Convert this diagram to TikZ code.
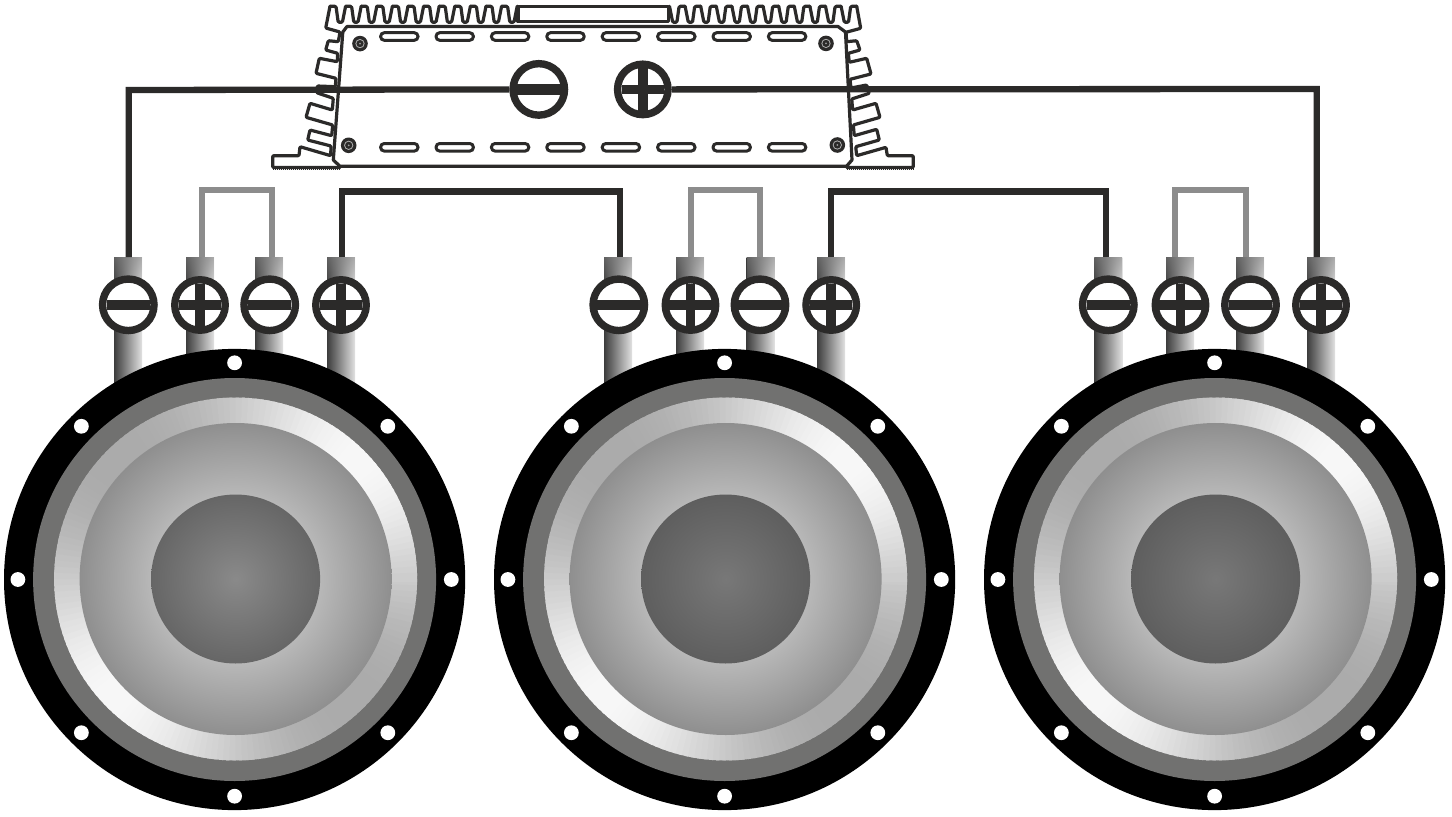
\documentclass[tikz,border=0pt]{standalone}
\usetikzlibrary{fadings}
\definecolor{dark}{HTML}{2B2A29}
\definecolor{jump}{HTML}{8C8C8C}
\definecolor{frame}{HTML}{717170}
\definecolor{postL}{HTML}{3C3C3C}
\definecolor{postR}{HTML}{E2E2E2}
\definecolor{postT}{HTML}{808080}
\pgfdeclareradialshading{coneS}{\pgfpoint{0bp}{0bp}}{color(0bp)=(black!28); color(13.5bp)=(black!28); color(25bp)=(black!44); color(50bp)=(black!44)}
\pgfdeclareradialshading{capA}{\pgfpoint{0bp}{0bp}}{color(0bp)=(black!46); color(25bp)=(black!60); color(50bp)=(black!60)}
\pgfdeclareradialshading{capB}{\pgfpoint{0bp}{0bp}}{color(0bp)=(black!53); color(25bp)=(black!63); color(50bp)=(black!63)}
\tikzfading[name=fadedown, top color=transparent!45, bottom color=transparent!100]
\tikzset{
  wire/.style={draw=dark,line width=6.3pt},
  jumper/.style={draw=jump,line width=6pt},
  ampline/.style={draw=dark,line width=3.2pt,line join=round,line cap=round},
  screw/.style={circle,draw=dark,fill=white,line width=7.4pt,minimum size=51.5pt,inner sep=0pt},
  slot/.style={draw=dark,fill=white,line width=3pt,rounded corners=3.7pt},
}
\newcommand{\screwminus}[3]{\node[screw] (#1) at (#2,#3) {};
  \fill[dark] (#2-21.7,#3-5.2) rectangle (#2+21.7,#3+5.2);}
\newcommand{\screwplus}[3]{\node[screw,minimum size=50.5pt] (#1) at (#2,#3) {};
  \fill[dark] (#2-21.2,#3-4.9) rectangle (#2+21.2,#3+4.9);
  \fill[dark] (#2-4.9,#3-21.5) rectangle (#2+4.9,#3+21.5);}
\newcommand{\postbar}[1]{\shade[left color=postL,right color=postR] (#1-14,257) rectangle (#1+14,400);
  \fill[postT,path fading=fadedown] (#1-14,257) rectangle (#1+14,292);}
\newcommand{\speaker}[2]{%
  \fill[black] (#1,579.5) circle (230.6);
  \foreach \h in {0,45,...,315} {\fill[white] (#1,579.5) ++(\h:216.7) circle (7.4);}
  \fill[frame] (#1,579.5) circle (201.5);
  \foreach \a in {0,2,...,358} {
    \pgfmathsetmacro{\g}{0.67+0.30*pow(abs(cos(\a+45))+0.0001,2.6)}
    \definecolor{ringc}{gray}{\g}
    \fill[ringc] (#1+1,579) -- ++(\a:181.5) arc[start angle=\a,end angle=\a+3,radius=181.5] -- cycle;
  }
  \shade[shading=coneS] (#1+1,579) circle (156);
  \shade[shading=#2] (#1+1,579) circle (84.5);
}
\newcommand{\ampscrew}[3]{\fill[dark] (#2,#3) circle (7.8);
  \fill[white!70!black] (#2,#3) circle (4.6);
  \fill[dark] (#2,#3) circle (3.6);
  \node[circle,fill=white!60!black,inner sep=0pt,minimum size=2pt] (#1) at (#2,#3) {};}
\begin{document}
\begin{tikzpicture}[x=1pt,y=-1pt]
\useasboundingbox (0,0) rectangle (1452,817);
\fill[white] (0,0) rectangle (1452,817);
% amplifier
\draw[ampline,fill=white] (347,26.5) -- (838,26.5) -- (845.5,32) -- (852,160) -- (846.5,166.3) -- (340,166.3) -- (333.3,160) -- (342.8,32) -- cycle;
\draw[ampline] (518,6.3) rectangle (668.5,21.5);
\foreach \i in {0,...,11} {
  \pgfmathsetmacro{\xx}{330+15.6*\i}
  \draw[ampline,rounded corners=1.2pt] (\xx,6.3) -- (\xx+6,6.3) -- (\xx+8.2,22.3) -- (\xx+12.4,22.3) -- (\xx+15.6,6.3);
  \pgfmathsetmacro{\xr}{856.7-15.6*\i}
  \draw[ampline,rounded corners=1.2pt] (\xr,6.3) -- (\xr-6,6.3) -- (\xr-8.2,22.3) -- (\xr-12.4,22.3) -- (\xr-15.6,6.3);
}
\draw[ampline,rounded corners=1pt] (330,6.3) -- (325.7,28) -- (340,32) -- (338.3,41.7) -- (328.3,40.7) -- (325.7,50) -- (337.7,53.3) -- (337.3,61.7) -- (319.3,58.3) -- (316,73.3) -- (336,78.3) -- (335.3,86.7) -- (317.3,86) -- (316.7,92.7) -- (333.3,98.3) -- (332.3,110) -- (310,103.3) -- (306,117.3) -- (332.7,125) -- (331.7,135.7) -- (310,130) -- (307.7,140) -- (331,146) -- (330.7,155.7) -- (300,146.7) -- (299,155.7) -- (272.7,155.7) -- (272.7,167.5) -- (340,167.5);
\draw[ampline,rounded corners=1pt] (856.7,6.3) -- (860.7,28.3) -- (846,32.3) -- (846.7,41.7) -- (856.7,40.7) -- (860,50) -- (848.3,53.3) -- (849.3,62.3) -- (866.7,58.3) -- (871,74) -- (850,79.3) -- (851,88) -- (866.7,85) -- (869.3,93.3) -- (851.7,99) -- (852.7,110) -- (876,103.3) -- (880,117.3) -- (853.3,125) -- (854.3,135.7) -- (876.7,129.3) -- (879.3,140) -- (855.7,146.7) -- (856.7,155.7) -- (886,147.3) -- (887.3,155.7) -- (913.3,155.7) -- (913.3,167.5) -- (846.7,167.5);
\draw[draw=dark,line width=3.6pt,dash pattern=on 1pt off 1pt] (273,168.3) -- (340,168.3);
\draw[draw=dark,line width=3.6pt,dash pattern=on 1pt off 1pt] (846.7,168.3) -- (913.3,168.3);
\foreach \i in {0,...,7} {
  \pgfmathsetmacro{\xs}{399.3+55.4*\i}
  \draw[slot] (\xs-18.7,32.7) rectangle (\xs+18.7,40.3);
  \draw[slot] (\xs-18.7,143.5) rectangle (\xs+18.7,151.1);
}
\ampscrew{as1}{360}{43.6}
\ampscrew{as2}{826}{43.4}
\ampscrew{as3}{348.7}{145.3}
\ampscrew{as4}{837.3}{145}
\screwminus{ampneg}{538.8}{89.4}
\screwplus{amppos}{642.8}{89.4}
% posts
\foreach \x in {128,200,269,341,618,690,760.5,831,1108.3,1180,1250,1321} {\postbar{\x}}
% speakers
\speaker{234.6}{capA}
\speaker{724.6}{capB}
\speaker{1214.6}{capB}
% terminals
\screwminus{a1}{128.3}{304.8}
\screwplus{a2}{200}{305}
\screwminus{a3}{269.7}{304.8}
\screwplus{a4}{341}{305}
\screwminus{b1}{618.8}{304.8}
\screwplus{b2}{690.5}{305}
\screwminus{b3}{760}{304.8}
\screwplus{b4}{831.2}{305}
\screwminus{c1}{1108.3}{304.8}
\screwplus{c2}{1180.5}{305}
\screwminus{c3}{1250.5}{304.8}
\screwplus{c4}{1321}{305}
% wire ends at post tops
\coordinate (wa1) at (128.7,257);
\coordinate (wa2) at (202,257);
\coordinate (wa3) at (271.5,257);
\coordinate (wa4) at (342,257);
\coordinate (wb1) at (620,257);
\coordinate (wb2) at (691,257);
\coordinate (wb3) at (760,257);
\coordinate (wb4) at (831,257);
\coordinate (wc1) at (1106,257);
\coordinate (wc2) at (1174.5,257);
\coordinate (wc3) at (1245.7,257);
\coordinate (wc4) at (1316.7,257);
\coordinate (tl) at (128.7,90);
\coordinate (tr) at (1316.7,89);
\coordinate (k1) at (342,191.5);
\coordinate (k2) at (620,191.5);
\coordinate (k3) at (831,191.5);
\coordinate (k4) at (1106,191.5);
% wires
\draw[wire] (wa1) -- (tl) -- (ampneg.west);
\draw[wire] (amppos.east) -- (tr) -- (wc4);
\draw[wire] (wa4) -- (k1) -- (k2) -- (wb1);
\draw[wire] (wb4) -- (k3) -- (k4) -- (wc1);
\draw[jumper] (wa2) |- (271.5,190) -- (wa3);
\draw[jumper] (wb2) |- (760,190) -- (wb3);
\draw[jumper] (wc2) |- (1245.7,190) -- (wc3);
\end{tikzpicture}
\end{document}
